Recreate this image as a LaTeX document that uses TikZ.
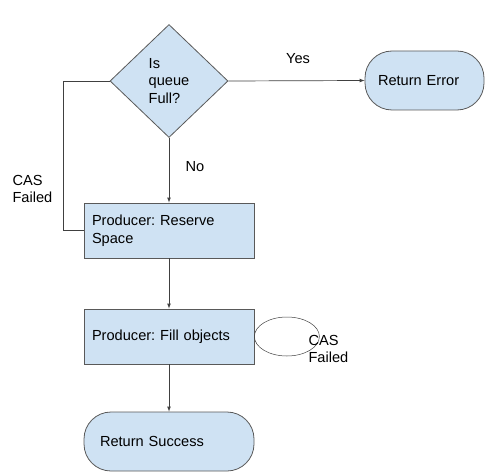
\documentclass[tikz,border=0pt]{standalone}
\usepackage{fontspec}
\setmainfont{Liberation Sans}
\frenchspacing
\usetikzlibrary{shapes.geometric}
\definecolor{boxfill}{HTML}{CFE2F3}
\definecolor{boxline}{HTML}{595959}
\begin{document}
\begin{tikzpicture}[x=1pt,y=-1pt]
\def\bw{170}
\def\bh{55}
\tikzset{base/.style={draw=boxline,fill=boxfill,line width=0.8pt,font=\fontsize{14.6}{17.5}\selectfont},
proc/.style={base,minimum width=\bw,minimum height=\bh,inner xsep=8pt,text width=\bw-16,align=left},
term/.style={base,rounded corners=27pt,minimum height=59,align=left},
dec/.style={base,diamond,inner sep=0pt,minimum width=118,minimum height=113,align=left},
conn/.style={>=latex,draw=black!75,line width=0.7pt},lbl/.style={font=\fontsize{14.6}{17.5}\selectfont,align=left}}
\useasboundingbox (0,0) rectangle (494,473);
\node[dec] at (169,81) (FULL) {Is\\queue\\Full?};
\node[term,minimum width=119,inner xsep=13pt,text width=93] at (424.5,80.5) (ERR) {Return Error};
\node[proc] at (169,230.5) (RES) {Producer: Reserve\\Space};
\node[proc] at (169,336.5) (FILL) {Producer: Fill objects};
\node[term,minimum width=\bw,inner xsep=16pt,text width=138] at (169,441.5) (OK) {Return Success};
\draw[conn,->] (FULL.east) -- (ERR.west);
\node[lbl] at (298,59) (YES) {Yes};
\draw[conn,->] (FULL.south) -- (RES.north);
\node[lbl] at (195,167) (NO) {No};
\draw[conn] (RES.west) -- ++(-20,0) |- (FULL.west);
\node[lbl,anchor=west] at (9,189) (CAS1) {CAS\\Failed};
\draw[conn,->] (RES.south) -- (FILL.north);
\draw[conn,->] (FILL.south) -- (OK.north);
\draw[conn,line width=0.5pt] (FILL.east) ++(32.5,0) ellipse [x radius=32.5,y radius=19.5];
\node[lbl,anchor=west] at (305,349) (CAS2) {CAS\\Failed};
\end{tikzpicture}
\end{document}
